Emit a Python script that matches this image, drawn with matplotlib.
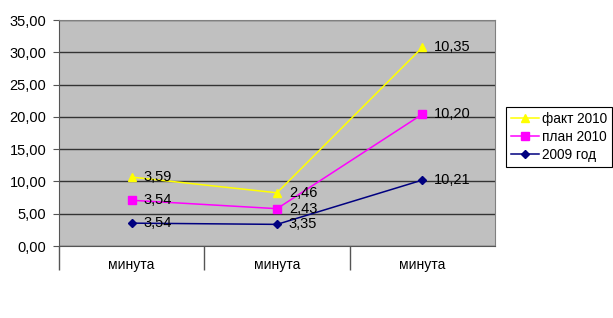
import matplotlib
matplotlib.use('Agg')
import matplotlib.pyplot as plt
import numpy as np

plt.rcParams['font.family'] = ['Liberation Sans', 'DejaVu Sans']

categories = ['минута', 'минута', 'минута']
series_names = ['2009 год', 'план 2010', 'факт 2010']
v2009 = [3.54, 3.35, 10.21]
plan2010 = [3.54, 2.43, 10.20]
fact2010 = [3.59, 2.46, 10.35]

colors = ['#000080', '#FF00FF', '#FFFF00']
markers = ['D', 's', '^']
msizes = [4, 6, 6]

fig = plt.figure(figsize=(6.13, 3.18), dpi=100)
ax = fig.add_axes([59/613, 1 - 246/318, (495 - 59)/613, (246 - 20)/318])
ax.set_facecolor('#C0C0C0')

x = np.arange(len(categories))
stack = np.zeros(len(categories))
lines = []
for vals, name, c, m, ms in zip([v2009, plan2010, fact2010], series_names, colors, markers, msizes):
    stack = stack + np.array(vals)
    ln, = ax.plot(x, stack, color=c, marker=m, markersize=ms, lw=1.1, label=name, zorder=3)
    lines.append(ln)
    for xi, yi, v in zip(x, stack, vals):
        ax.annotate(('%.2f' % v).replace('.', ','), (xi, yi), xytext=(8.5, 0),
                    textcoords='offset points', va='center', ha='left', fontsize=10.5)

ax.set_xlim(-0.5, 2.5)
ax.set_ylim(0, 35)
ax.set_yticks(np.arange(0, 36, 5))
ax.set_yticklabels([('%.2f' % t).replace('.', ',') for t in np.arange(0, 36, 5)], fontsize=10.5)
ax.yaxis.grid(True, color='#333333', lw=1)
ax.set_axisbelow(True)
ax.tick_params(axis='y', length=4, color='#555555', pad=5)

ax.set_xticks(x)
ax.set_xticklabels(categories, fontsize=10)
ax.tick_params(axis='x', which='major', length=0, pad=9)
ax.set_xticks([-0.5, 0.5, 1.5], minor=True)
ax.tick_params(axis='x', which='minor', length=17, color='#555555', width=1)

for s in ['top', 'right']:
    ax.spines[s].set_color('#808080')
ax.spines['left'].set_color('#555555')
ax.spines['bottom'].set_color('#555555')

leg = fig.legend(lines[::-1], series_names[::-1], loc='upper left',
                 bbox_to_anchor=(506/613, 1 - 107/318), fontsize=9.8,
                 fancybox=False, framealpha=1, edgecolor='black',
                 handlelength=2.1, handletextpad=0.2, borderpad=0.35,
                 labelspacing=0.3, borderaxespad=0)
leg.get_frame().set_linewidth(0.8)

fig.savefig('out.png', dpi=100)
